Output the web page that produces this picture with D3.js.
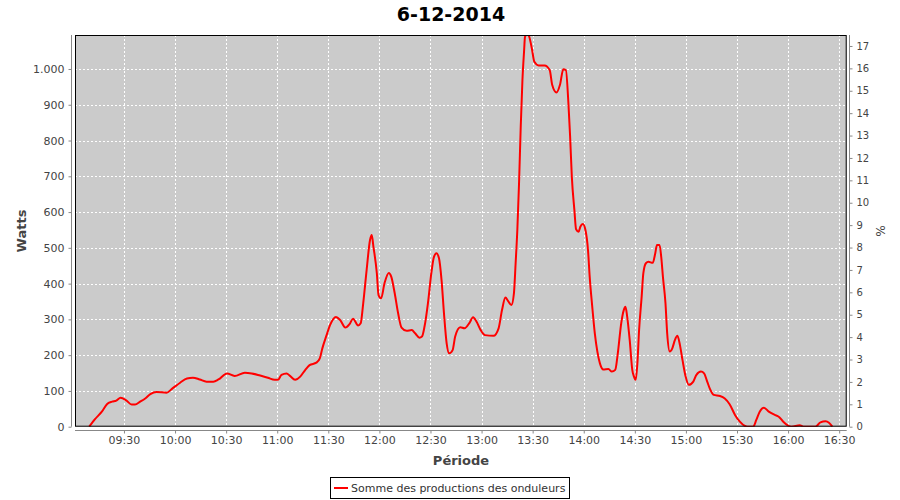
<!DOCTYPE html>
<html>
<head>
<meta charset="utf-8">
<script src="https://cdn.jsdelivr.net/npm/d3@7"></script>
<style>
  html, body { margin: 0; padding: 0; background: #fff; }
  svg text { font-family: "DejaVu Sans", sans-serif; }
</style>
</head>
<body>
<svg id="chart" width="900" height="500"></svg>
<script>
const chartTitle = "6-12-2014";
const seriesName = "Somme des productions des onduleurs";
const times = ["09:09:36","09:13:00","09:17:00","09:20:00","09:23:00","09:25:30","09:28:00","09:31:30","09:34:30","09:36:30",
"09:39:30","09:42:30","09:45:30","09:49:00","09:55:00","09:58:30","10:03:00","10:07:00","10:10:30","10:14:30",
"10:18:30","10:22:30","10:25:30","10:30:30","10:35:00","10:41:00","10:45:00","10:50:00","10:54:30","10:58:30",
"11:00:30","11:02:30","11:05:30","11:07:30","11:10:30","11:13:30","11:16:30","11:19:00","11:23:00","11:25:00",
"11:26:30","11:29:00","11:31:00","11:34:30","11:37:00","11:40:00","11:42:30","11:44:30","11:47:30","11:49:00",
"11:50:30","11:52:30","11:54:30","11:55:30","11:56:30","11:58:30","11:59:30","12:01:00","12:03:00","12:05:30",
"12:07:00","12:09:00","12:11:00","12:13:00","12:16:00","12:19:00","12:21:00","12:23:30","12:25:00","12:26:30",
"12:28:30","12:30:30","12:32:00","12:33:30","12:35:00","12:36:30","12:38:00","12:39:30","12:41:00","12:43:00",
"12:44:30","12:47:30","12:50:00","12:53:00","12:55:00","12:57:00","12:59:30","13:02:00","13:07:00","13:10:00",
"13:12:00","13:14:00","13:15:30","13:17:30","13:19:00","13:20:00","13:21:00","13:22:00","13:23:00","13:24:00",
"13:25:00","13:25:30","13:27:00","13:28:00","13:29:30","13:31:00","13:33:30","13:37:00","13:40:00","13:41:30",
"13:44:00","13:46:00","13:48:00","13:49:30","13:51:00","13:52:00","13:53:00","13:54:30","13:55:30","13:57:00",
"13:58:00","13:59:30","14:01:00","14:02:30","14:03:30","14:05:00","14:06:30","14:08:00","14:09:30","14:11:30",
"14:14:30","14:16:30","14:18:30","14:20:00","14:22:00","14:23:30","14:24:30","14:25:30","14:27:00","14:28:30",
"14:29:30","14:30:30","14:31:30","14:32:30","14:34:00","14:35:00","14:36:30","14:38:00","14:40:30","14:42:00",
"14:43:00","14:44:30","14:45:30","14:46:30","14:48:00","14:49:00","14:50:30","14:52:00","14:53:30","14:55:00",
"14:56:30","14:58:00","14:59:50","15:01:40","15:04:20","15:06:10","15:08:50","15:10:40","15:12:30","15:14:10",
"15:16:20","15:20:00","15:22:50","15:25:40","15:28:50","15:31:40","15:34:40","15:36:00","15:39:30","15:41:20",
"15:43:20","15:45:50","15:48:40","15:52:10","15:54:30","15:57:10","16:00:00","16:02:00","16:06:50","16:09:00",
"16:16:00","16:19:00","16:22:00","16:24:00","16:26:00"];
const watts = [0,21,42,63,70,73,81,73,62,62,
70,79,91,97,95,107,123,135,137,132,
126,126,132,149,142,151,149,143,137,131,
131,145,149,142,131,140,159,172,179,191,
219,256,284,307,298,277,287,302,283,289,
345,438,522,536,503,429,368,359,401,430,
419,373,317,277,268,270,261,249,252,280,
345,429,474,485,471,410,312,233,205,214,
252,278,275,291,306,294,270,256,254,275,
326,361,352,340,373,457,550,680,839,969,
1053,1090,1100,1090,1058,1020,1010,1010,997,955,
934,955,999,997,904,811,699,606,552,545,
559,567,550,494,419,335,261,210,177,160,
161,154,159,205,289,326,335,308,242,159,
140,131,177,270,363,429,457,461,458,485,
508,508,475,419,345,261,210,219,242,254,
228,186,140,117,126,145,154,149,126,105,
89,86,79,63,33,14,2,0,0,19,
42,53,42,33,28,14,3,0,4,0,
0,12,15,11,0];
const xTickLabels = ["09:30","10:00","10:30","11:00","11:30","12:00","12:30","13:00","13:30","14:00","14:30","15:00","15:30","16:00","16:30"];
const leftTicks = [0,100,200,300,400,500,600,700,800,900,1000];
const rightTicks = [0,1,2,3,4,5,6,7,8,9,10,11,12,13,14,15,16,17];

const parse = d3.timeParse("%H:%M:%S");
const parseHM = d3.timeParse("%H:%M");
const data = times.map((t, i) => ({ t: parse(t), v: watts[i] }));

const svg = d3.select("#chart");
const L = 75, R = 846.7, T = 35, B = 426.7;

const x = d3.scaleTime().domain([parse("09:01:15"), parse("16:34:25")]).range([L, R]);
const y = d3.scaleLinear().domain([0, 1095]).range([B, T]);
const y2 = d3.scaleLinear().domain([0, 17.49]).range([B, T]);

svg.append("rect").attr("width", 900).attr("height", 500).attr("fill", "#fff");

// title
svg.append("text").attr("x", 451).attr("y", 21).attr("text-anchor", "middle")
  .attr("font-size", 19).attr("font-weight", "bold").attr("fill", "#000").text(chartTitle);

// plot background
svg.append("rect").attr("x", L).attr("y", T).attr("width", R - L).attr("height", B - T).attr("fill", "#cbcbcb");

// gridlines
const xTickDates = xTickLabels.map(s => parseHM(s));
svg.append("g").selectAll("line").data(xTickDates).join("line")
  .attr("x1", d => Math.round(x(d)) + 0.5).attr("x2", d => Math.round(x(d)) + 0.5)
  .attr("y1", T).attr("y2", B)
  .attr("stroke", "#fff").attr("stroke-width", 1).attr("stroke-dasharray", "2,2");
svg.append("g").selectAll("line").data(leftTicks).join("line")
  .attr("x1", L).attr("x2", R)
  .attr("y1", d => Math.round(y(d)) + 0.5).attr("y2", d => Math.round(y(d)) + 0.5)
  .attr("stroke", "#fff").attr("stroke-width", 1).attr("stroke-dasharray", "2,2");

// line
svg.append("clipPath").attr("id", "clip").append("rect")
  .attr("x", L).attr("y", T).attr("width", R - L).attr("height", B - T);
const line = d3.line().x(d => x(d.t)).y(d => y(d.v)).curve(d3.curveMonotoneX);
svg.append("path").datum(data).attr("d", line).attr("clip-path", "url(#clip)")
  .attr("fill", "none").attr("stroke", "#ff0000").attr("stroke-width", 2).attr("stroke-linejoin", "round");

// plot outline
svg.append("rect").attr("x", L + 0.5).attr("y", T + 0.5).attr("width", R - L - 1).attr("height", B - T - 1)
  .attr("fill", "none").attr("stroke", "#000").attr("stroke-width", 1);

function styleAxis(g) {
  g.select(".domain").attr("stroke", "#888");
  g.selectAll(".tick line").attr("stroke", "#888");
  g.selectAll(".tick text").attr("fill", "#444").attr("font-size", 11).attr("font-family", "DejaVu Sans, sans-serif");
}

// left axis
const fmt = v => v >= 1000 ? d3.format(",")(v).replace(/,/g, ".") : String(v);
svg.append("g").attr("transform", "translate(71.5,0)")
  .call(d3.axisLeft(y).tickValues(leftTicks).tickFormat(fmt).tickSize(3).tickSizeOuter(0).tickPadding(4))
  .call(styleAxis)
  .call(g => g.select(".domain").attr("d", `M0,${T}V${B}`));

// right axis
svg.append("g").attr("transform", "translate(849.5,0)")
  .call(d3.axisRight(y2).tickValues(rightTicks).tickFormat(d3.format("d")).tickSize(3).tickSizeOuter(0).tickPadding(4))
  .call(styleAxis)
  .call(g => g.selectAll(".tick text").attr("font-size", 10))
  .call(g => g.select(".domain").attr("d", `M0,${T}V${B}`));

// bottom axis
svg.append("g").attr("transform", "translate(0,430.5)")
  .call(d3.axisBottom(x).tickValues(xTickDates).tickFormat(d3.timeFormat("%H:%M")).tickSize(3).tickSizeOuter(0).tickPadding(3))
  .call(styleAxis)
  .call(g => g.select(".domain").attr("d", `M${L},0H${R}`));

// axis labels
svg.append("text").attr("transform", "translate(26,231) rotate(-90)").attr("text-anchor", "middle")
  .attr("font-size", 13).attr("font-weight", "bold").attr("fill", "#444").text("Watts");
svg.append("text").attr("x", 461).attr("y", 465).attr("text-anchor", "middle")
  .attr("font-size", 13).attr("font-weight", "bold").attr("fill", "#444").text("Période");
svg.append("text").attr("transform", "translate(876,231) rotate(90)").attr("text-anchor", "middle")
  .attr("font-size", 12).attr("fill", "#444").text("%");

// legend
const lg = svg.append("g");
const lt = lg.append("text").attr("y", 492).attr("font-size", 11).attr("fill", "#333").text(seriesName);
const tw = lt.node().getComputedTextLength();
const boxW = tw + 25, boxX = Math.round(450 - boxW / 2);
lg.insert("rect", "text").attr("x", boxX + 0.5).attr("y", 477.5).attr("width", Math.round(boxW)).attr("height", 21)
  .attr("fill", "#fff").attr("stroke", "#000");
lg.append("line").attr("x1", boxX + 4).attr("x2", boxX + 18).attr("y1", 488).attr("y2", 488)
  .attr("stroke", "#ff0000").attr("stroke-width", 2);
lt.attr("x", boxX + 21);
</script>
</body>
</html>
